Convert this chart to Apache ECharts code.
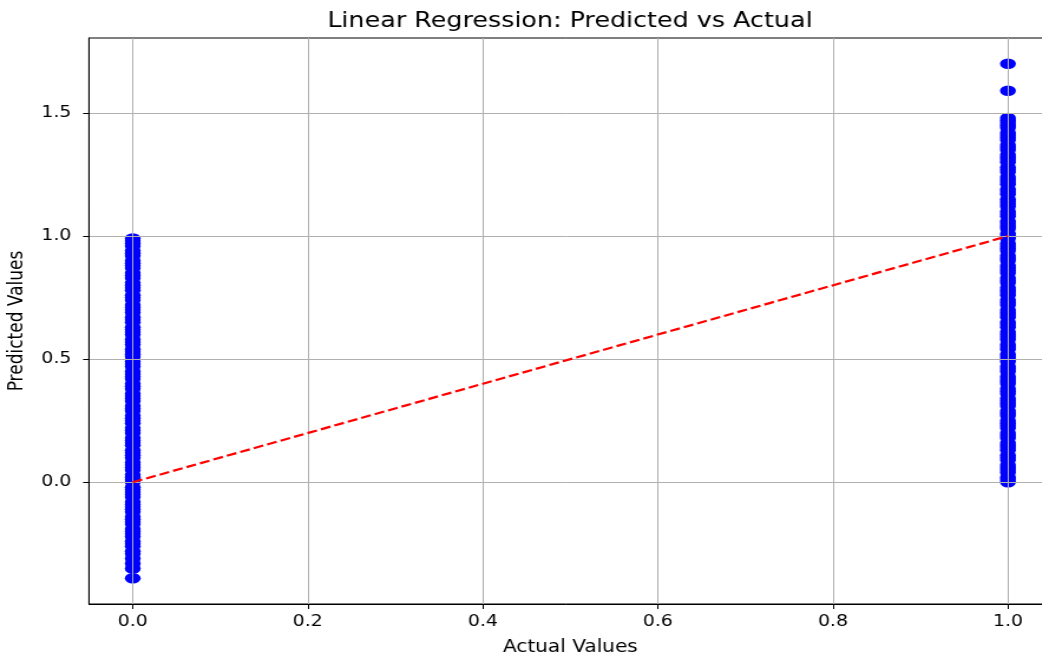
<!DOCTYPE html>
<html>
<head>
<meta charset="utf-8">
<script src="https://cdn.jsdelivr.net/npm/echarts@6/dist/echarts.min.js"></script>
<style>
html,body{margin:0;padding:0;background:#fff;overflow:hidden}
#wrap{width:1042px;height:657px;overflow:hidden;position:relative}
#chart{width:883px;height:657px;transform:scaleX(1.18);transform-origin:0 0}
</style>
</head>
<body>
<div id="wrap"><div id="chart"></div></div>
<script>
// ---- data ----
const titleText = 'Linear Regression: Predicted vs Actual';
const xName = 'Actual Values';
const yName = 'Predicted Values';
const actualClasses = [0, 1];
const predictedAt0 = [-0.39, -0.35, -0.33, -0.31, -0.29, -0.28, -0.26, -0.25, -0.24, -0.22, -0.21, -0.20,
  -0.19, -0.17, -0.16, -0.15, -0.14, -0.12, -0.11, -0.10, -0.09, -0.08, -0.06, -0.05, -0.04, -0.03, -0.02,
  0.00, 0.01, 0.02, 0.03, 0.05, 0.06, 0.07, 0.08, 0.10, 0.11, 0.12, 0.13, 0.15, 0.16, 0.17, 0.18, 0.20,
  0.21, 0.22, 0.24, 0.25, 0.26, 0.27, 0.29, 0.30, 0.31, 0.33, 0.34, 0.35, 0.36, 0.38, 0.39, 0.40, 0.42,
  0.43, 0.44, 0.45, 0.47, 0.48, 0.49, 0.51, 0.52, 0.53, 0.54, 0.56, 0.57, 0.58, 0.60, 0.61, 0.62, 0.63,
  0.65, 0.66, 0.67, 0.69, 0.70, 0.71, 0.72, 0.74, 0.75, 0.76, 0.78, 0.79, 0.80, 0.81, 0.83, 0.84, 0.85,
  0.87, 0.88, 0.89, 0.90, 0.92, 0.93, 0.94, 0.96, 0.97, 0.98, 0.99];
const predictedAt1 = [0.00, 0.01, 0.02, 0.04, 0.05, 0.06, 0.07, 0.09, 0.10, 0.11, 0.13, 0.14, 0.15, 0.16,
  0.18, 0.19, 0.20, 0.22, 0.23, 0.24, 0.25, 0.27, 0.28, 0.29, 0.31, 0.32, 0.33, 0.34, 0.36, 0.37, 0.38,
  0.40, 0.41, 0.42, 0.43, 0.45, 0.46, 0.47, 0.49, 0.50, 0.51, 0.52, 0.54, 0.55, 0.56, 0.58, 0.59, 0.60,
  0.61, 0.63, 0.64, 0.65, 0.67, 0.68, 0.69, 0.70, 0.72, 0.73, 0.74, 0.76, 0.77, 0.78, 0.79, 0.81, 0.82,
  0.83, 0.85, 0.86, 0.87, 0.88, 0.90, 0.91, 0.92, 0.94, 0.95, 0.96, 0.97, 0.99, 1.00, 1.01, 1.03, 1.04,
  1.05, 1.06, 1.08, 1.09, 1.10, 1.12, 1.13, 1.14, 1.15, 1.17, 1.18, 1.19, 1.21, 1.22, 1.23, 1.24, 1.26,
  1.27, 1.28, 1.30, 1.31, 1.32, 1.33, 1.35, 1.36, 1.37, 1.39, 1.40, 1.41, 1.42, 1.44, 1.45, 1.46, 1.47,
  1.48, 1.59, 1.70];
const idealX = [0, 1];
const idealY = [0, 1];
const xTicks = [0, 0.2, 0.4, 0.6, 0.8, 1.0];
const yTicks = [0, 0.5, 1.0, 1.5];
const xRange = [-0.05, 1.05];
const yRange = [-0.4945, 1.8045];

// ---- build ----
const scatterData = []
  .concat(predictedAt0.map(v => [actualClasses[0], v]))
  .concat(predictedAt1.map(v => [actualClasses[1], v]));
const lineData = idealX.map((x, i) => [x, idealY[i]]);
const fmt = ticks => v => ticks.some(t => Math.abs(t - v) < 1e-9) ? v.toFixed(1) : '';
const FONT = 'DejaVu Sans';

const chart = echarts.init(document.getElementById('chart'));
chart.setOption({
  animation: false,
  backgroundColor: '#ffffff',
  title: {
    text: titleText,
    left: 483, top: 10, padding: 0, textAlign: 'center',
    textStyle: {fontFamily: FONT, fontSize: 21.5, fontWeight: 'normal', color: '#000'}
  },
  grid: {
    left: 75.4, right: -8.3, top: 38, bottom: 53,
    show: true, borderColor: '#000', borderWidth: 1, backgroundColor: 'transparent',
    containLabel: false, outerBoundsMode: 'none'
  },
  xAxis: {
    type: 'value', min: xRange[0], max: xRange[1], splitNumber: 5, z: 3,
    name: xName, nameLocation: 'middle', nameGap: 35,
    nameTextStyle: {fontFamily: FONT, fontSize: 17, color: '#000'},
    axisLine: {show: true, onZero: false, lineStyle: {color: '#000', width: 1}},
    axisTick: {show: true, length: 5, customValues: xTicks, lineStyle: {color: '#000', width: 1}},
    axisLabel: {customValues: xTicks, margin: 10, formatter: fmt(xTicks), fontFamily: FONT, fontSize: 16, color: '#000'},
    splitLine: {show: true, lineStyle: {color: '#b0b0b0', width: 1}}
  },
  yAxis: {
    type: 'value', min: yRange[0], max: yRange[1], splitNumber: 5, z: 3,
    name: yName, nameLocation: 'middle', nameGap: 52,
    nameTextStyle: {fontFamily: FONT, fontSize: 17, color: '#000'},
    axisLine: {show: true, onZero: false, lineStyle: {color: '#000', width: 1}},
    axisTick: {show: true, length: 5, customValues: yTicks, lineStyle: {color: '#000', width: 1}},
    axisLabel: {customValues: yTicks, margin: 15, formatter: fmt(yTicks), fontFamily: FONT, fontSize: 16, color: '#000'},
    splitLine: {show: true, lineStyle: {color: '#b0b0b0', width: 1}}
  },
  series: [
    {
      type: 'scatter', data: scatterData, z: 2, silent: true,
      symbol: 'circle', symbolSize: [13.5, 10.5],
      itemStyle: {color: '#0000ff', opacity: 1}
    },
    {
      type: 'line', data: lineData, z: 5, silent: true,
      symbol: 'none', showSymbol: false,
      lineStyle: {color: '#ff0000', width: 2.2, type: [8.5, 3.5]}
    }
  ]
});
</script>
</body>
</html>
